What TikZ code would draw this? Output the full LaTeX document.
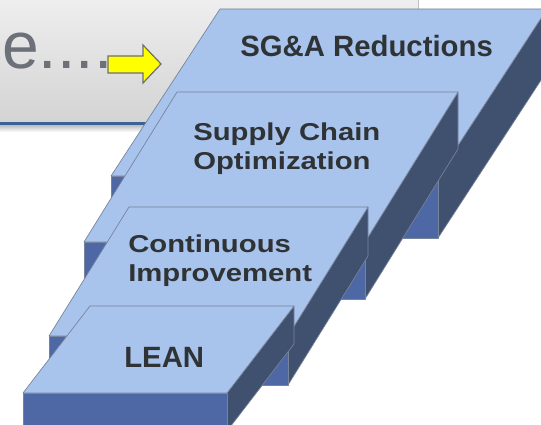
\documentclass[tikz,border=0pt]{standalone}
\usepackage{fontspec}
\setmainfont{Liberation Sans}
\newfontfamily\widefont{Liberation Sans}[FakeStretch=1.2]
\usetikzlibrary{calc}
\definecolor{topblue}{HTML}{A8C3EC}
\definecolor{frontblue}{HTML}{4E67A5}
\definecolor{sideblue}{HTML}{40506F}
\definecolor{edgegray}{HTML}{76839A}
\definecolor{labeltext}{HTML}{2F3336}
\definecolor{headtext}{HTML}{6C7079}
\definecolor{headline}{HTML}{3B6296}
\definecolor{arrowyellow}{HTML}{FFFF00}
\definecolor{arrowedge}{HTML}{6F6F6F}
\tikzset{
  topface/.style={fill=topblue, draw=edgegray, line width=0.5pt, line join=round},
  frontface/.style={fill=frontblue, draw=edgegray, line width=0.5pt, line join=round},
  sideface/.style={fill=sideblue, draw=edgegray, line width=0.5pt, line join=round},
  biglabel/.style={anchor=base west, inner sep=0pt, text=labeltext, font=\fontsize{22}{26}\selectfont\bfseries},
  widelabel/.style={anchor=base west, inner sep=0pt, text=labeltext, font=\widefont\fontsize{18.3}{22}\selectfont\bfseries},
  blockarrow/.style={fill=arrowyellow, draw=arrowedge, line width=0.9pt, line join=miter},
}
% #1 top-left x, #2 top-right x, #3 top y, #4 slant dx, #5 depth, #6 thickness
\newcommand{\drawslab}[6]{%
  \draw[sideface] (#2,#3) -- ({#2-#4},{#3+#5}) -- ({#2-#4},{#3+#5+#6}) -- (#2,{#3+#6}) -- cycle;
  \draw[frontface] ({#1-#4},{#3+#5}) rectangle ({#2-#4},{#3+#5+#6});
  \draw[topface] (#1,#3) -- (#2,#3) -- ({#2-#4},{#3+#5}) -- ({#1-#4},{#3+#5}) -- cycle;
}
\begin{document}
\begin{tikzpicture}[x=0.75pt, y=-0.75pt]
\useasboundingbox (0,0) rectangle (541,424);
\clip (0,0) rectangle (541,424);
\fill[white] (0,0) rectangle (541,424);
% header box
\shade[top color=white!95!black, bottom color=white!83!black] (-10,-20) rectangle (418,122);
\draw[white!75!black, line width=0.6pt] (418,-20) -- (418,122);
\shade[top color=white!72!black, bottom color=white] (-10,124.5) rectangle (418,132);
\fill[headline] (-10,121.5) rectangle (418,125);
\node[anchor=base west, inner sep=0pt, text=headtext, font=\fontsize{49.5}{55}\selectfont] (headtxt) at (-31,69) {ce....};
\draw[blockarrow]
  (108,56) -- (143,56) -- (143,45) -- (161,64) -- (143,83) -- (143,73) -- (108,73) -- cycle;
% slabs, back to front
\drawslab{220}{547}{9}{109}{167}{62}
\drawslab{177}{458}{92}{93}{150}{57}
\drawslab{129}{368}{207}{80}{129}{49}
\drawslab{90}{294}{306}{67}{87}{38}
% labels
\node[biglabel] (sga) at (240,57) {SG\&A Reductions};
\node[widelabel] (sc1) at (193,140) {Supply Chain};
\node[widelabel] (sc2) at (193,169) {Optimization};
\node[widelabel] (ci1) at (128,252) {Continuous};
\node[widelabel] (ci2) at (128,281) {Improvement};
\node[biglabel] (lean) at (124,367) {LEAN};
\end{tikzpicture}
\end{document}
